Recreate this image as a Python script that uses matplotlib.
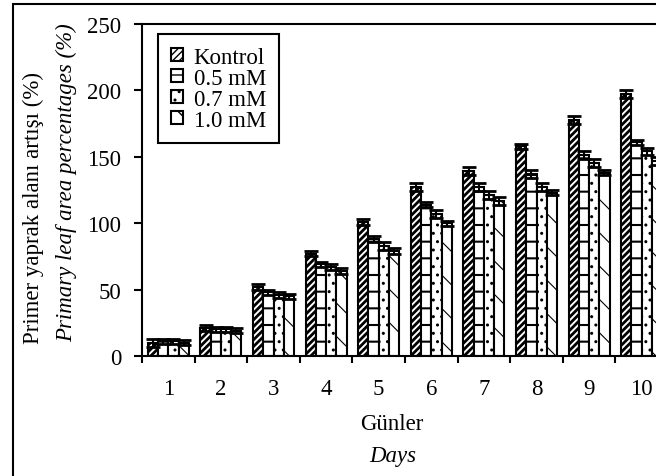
import numpy as np
import matplotlib
matplotlib.use("Agg")
import matplotlib.pyplot as plt
from matplotlib.patches import Rectangle

plt.rcParams['font.family'] = ['Liberation Serif', 'DejaVu Serif']
FS = 16.5

days = ['1', '2', '3', '4', '5', '6', '7', '8', '9', '10']
groups = ['Kontrol', '0.5 mM', '0.7 mM', '1.0 mM']
kontrol = [10, 21, 52, 77, 101, 127, 139, 158, 178, 197]
mm05 = [11, 20, 48, 69, 88, 114, 127, 137, 151, 161]
mm07 = [11, 20, 46, 67, 83, 107, 121, 127, 145, 154]
mm10 = [10, 19, 45, 64, 79, 100, 117, 123, 138, 147]
err_kontrol = [3, 2, 2, 2, 2, 3, 3, 2, 3, 3]
err_05 = [2, 2, 2, 2, 2, 2, 3, 3, 3, 2]
err_07 = [2, 2, 2, 2, 3, 3, 3, 3, 3, 3]
err_10 = [2, 2, 2, 2, 2, 2, 3, 2, 2, 3]

series = [kontrol, mm05, mm07, mm10]
errs = [err_kontrol, err_05, err_07, err_10]
hatches = ['/////', '-', '..', '\\']
hatch_lw = [2.0, 1.5, 1.0, 0.8]

fig = plt.figure(figsize=(6.56, 4.77), dpi=100)
ax = fig.add_axes([142/656, 1-357/477, 526/656, 332/477])

x = np.arange(1, len(days) + 1)
w = 0.195
for i, (vals, e) in enumerate(zip(series, errs)):
    pos = x + (i - 1.5) * w
    bars = ax.bar(pos, vals, w, color='white', edgecolor='black', linewidth=1.5,
                  hatch=hatches[i], label=groups[i], zorder=2)
    for b in bars:
        if hasattr(b, 'set_hatch_linewidth'):
            b.set_hatch_linewidth(hatch_lw[i])
    ax.errorbar(pos, vals, yerr=e, fmt='none', ecolor='black', elinewidth=1.5,
                capsize=5, capthick=2, zorder=3)

ax.set_xlim(0.5, 10.5)
ax.set_ylim(0, 250)
ax.set_yticks([0, 50, 100, 150, 200, 250])
ax.set_xticks(np.arange(0.5, 11, 1))
ax.set_xticklabels([])
ax.set_xticks(x, minor=True)
ax.set_xticklabels(days, minor=True)
ax.tick_params(axis='x', which='minor', length=0, pad=16, labelsize=FS)
ax.tick_params(axis='x', which='major', direction='out', length=5, width=1.5)
ax.tick_params(axis='y', direction='out', length=6, width=1.5, labelsize=FS, pad=9)
for s in ax.spines.values():
    s.set_linewidth(1.5)

leg = ax.legend(loc='upper left', bbox_to_anchor=((158-142)/526, (357-35)/332),
                frameon=True, fancybox=False, edgecolor='black', fontsize=FS,
                handlelength=0.55, handleheight=0.55, handletextpad=0.45,
                labelspacing=0.0, borderpad=0.55, borderaxespad=0, framealpha=1)
leg.get_frame().set_linewidth(1.5)

fig.text(392/656, 1-425/477, 'Günler', ha='center', va='center', fontsize=FS)
fig.text(393/656, 1-457/477, 'Days', ha='center', va='center', fontsize=FS, style='italic')
fig.text(33/656, 1-208/477, 'Primer yaprak alanı artışı (%)', rotation=90,
         ha='center', va='center', fontsize=FS)
fig.text(67/656, 1-183/477, 'Primary leaf area percentages (%)', rotation=90,
         ha='center', va='center', fontsize=FS, style='italic')

fig.patches.append(Rectangle((13/656, -0.1), 1.2, 1.1 - 5/477,
                             transform=fig.transFigure, fill=False,
                             edgecolor='black', linewidth=1.5))

fig.savefig('out.png', dpi=100)
